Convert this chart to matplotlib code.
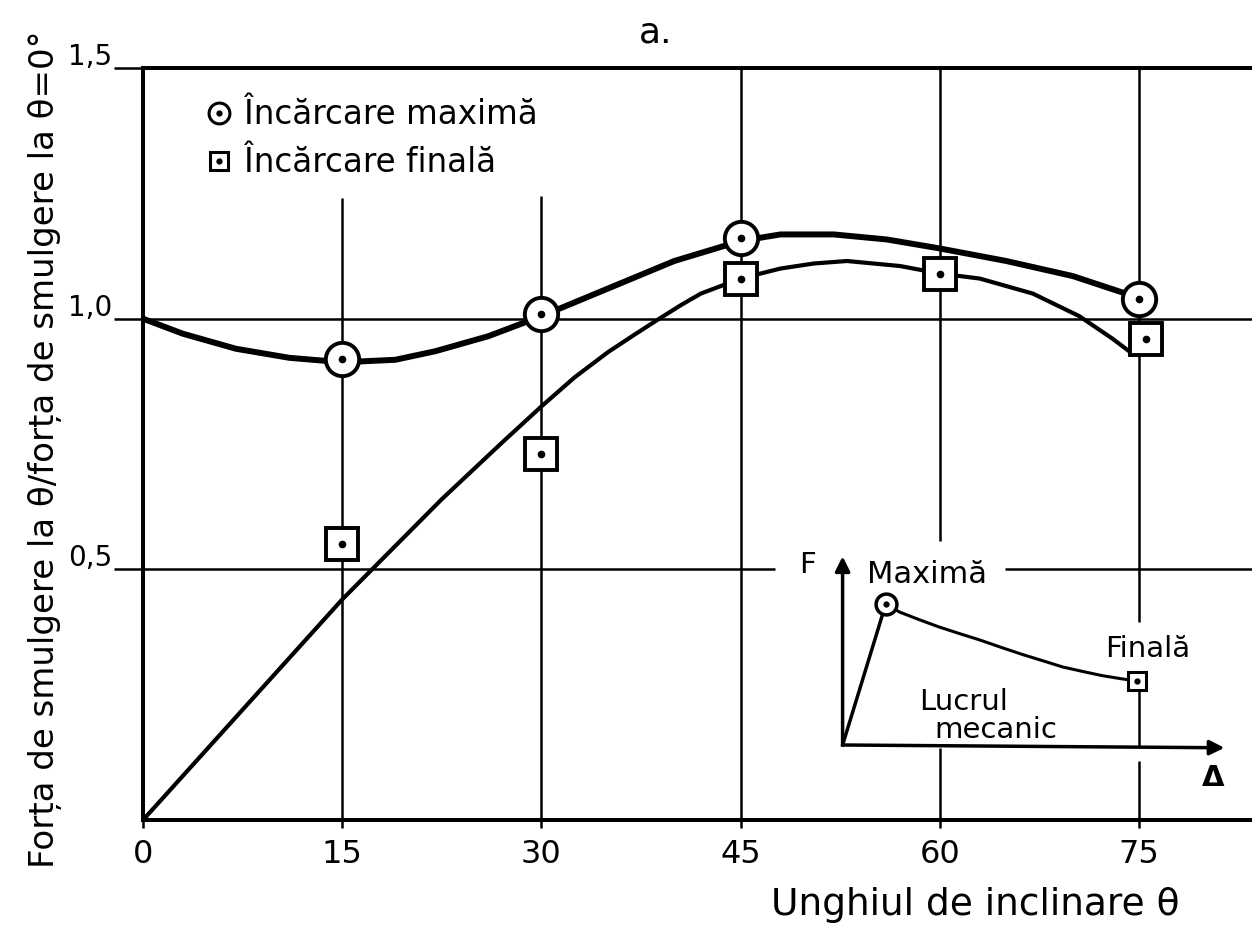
import matplotlib

matplotlib.use("Agg")
import matplotlib.pyplot as plt
from matplotlib.lines import Line2D
from matplotlib.transforms import ScaledTranslation

plt.rcParams["font.family"] = ["DejaVu Sans"]

# measured points (ratio of pull-out force at theta / at theta = 0)
max_angles = [15, 30, 45, 75]
max_ratio = [0.92, 1.01, 1.16, 1.04]
final_angles = [15, 30, 45, 60, 75.5]
final_ratio = [0.55, 0.73, 1.08, 1.09, 0.96]

# hand-faired trend curves
max_curve_x = [0, 3, 7, 11, 15, 19, 22, 26, 30, 35, 40, 45, 48, 52, 56, 60, 65, 70, 74]
max_curve_y = [1.0, 0.97, 0.94, 0.922, 0.913, 0.918, 0.935, 0.965, 1.005, 1.06,
               1.115, 1.155, 1.168, 1.168, 1.158, 1.14, 1.115, 1.085, 1.05]
final_curve_x = [0, 7.5, 15, 22.5, 27, 30, 32.5, 35, 37, 38.7, 40.5, 42, 45, 48, 50.5,
                 53, 57, 60, 63, 67, 70.5, 73, 74.5]
final_curve_y = [0.0, 0.22, 0.44, 0.64, 0.752, 0.825, 0.883, 0.933, 0.968, 0.997, 1.027,
                 1.05, 1.08, 1.10, 1.11, 1.115, 1.105, 1.09, 1.08, 1.05, 1.005, 0.96, 0.93]

x_ticks = [0, 15, 30, 45, 60, 75]
y_ticks = [0.5, 1.0, 1.5]
y_tick_labels = ["0,5", "1,0", "1,5"]

# force-displacement sketch (schematic units)
sketch_rise_x = [0, 0.113]
sketch_rise_y = [0, 0.762]
sketch_decay_x = [0.113, 0.149, 0.2, 0.25, 0.305, 0.359, 0.415, 0.47, 0.525, 0.576,
                  0.63, 0.68, 0.73, 0.772]
sketch_decay_y = [0.762, 0.719, 0.678, 0.64, 0.603, 0.568, 0.528, 0.49, 0.455, 0.422,
                  0.397, 0.375, 0.358, 0.346]

fig = plt.figure(figsize=(12.52, 9.39), dpi=100)
ax = fig.add_axes([0.1142, 0.1267, 0.8858, 0.8009])
ax.set_xlim(0, 83.5)
ax.set_ylim(0, 1.5)

# grid drawn as separate pieces, left open around the legend and sketch
grid_kw = dict(color="black", lw=1.8, zorder=1)
ax.vlines([15], [0], [1.24], **grid_kw)
ax.vlines([30], [0], [1.245], **grid_kw)
ax.vlines([45], [0], [1.5], **grid_kw)
ax.vlines([60, 60], [0.556, 0], [1.5, 0.144], **grid_kw)
ax.vlines([75, 75, 75], [0.395, 0.146, 0], [1.5, 0.261, 0.117], **grid_kw)
ax.hlines([1.0], [0], [83.5], **grid_kw)
ax.hlines([0.5, 0.5], [0, 64.9], [47.6, 83.5], **grid_kw)

ax.plot(max_curve_x, max_curve_y, color="black", lw=4.3, solid_capstyle="round",
        solid_joinstyle="round", zorder=3)
ax.plot(final_curve_x, final_curve_y, color="black", lw=3.0, solid_capstyle="round",
        solid_joinstyle="round", zorder=3)

ring = dict(ls="none", mfc="white", mec="black", mew=2.8, zorder=4)
dot = dict(ls="none", marker="o", ms=4.5, color="black", zorder=5)
ax.plot(max_angles, max_ratio, marker="o", ms=24, **ring)
ax.plot(max_angles, max_ratio, **dot)
ax.plot(final_angles, final_ratio, marker="s", ms=23, **ring)
ax.plot(final_angles, final_ratio, **dot)

leg_ring = Line2D([], [], marker="o", ms=15, mew=2.2, ls="none", mfc="white", mec="black")
leg_sq = Line2D([], [], marker="s", ms=13, mew=2.2, ls="none", mfc="white", mec="black")
leg_dot = Line2D([], [], marker="o", ms=3.5, ls="none", color="black")
ax.legend([(leg_ring, leg_dot), (leg_sq, leg_dot)],
          ["Încărcare maximă", "Încărcare finală"],
          loc="upper left", bbox_to_anchor=(0.035, 0.99), frameon=False,
          fontsize=23.5, handlelength=0.9, handletextpad=0.3, labelspacing=0.45,
          borderpad=0.2)

for side in ["left", "top", "bottom"]:
    ax.spines[side].set_linewidth(2.9)
ax.spines["right"].set_visible(False)

ax.set_xticks(x_ticks)
ax.set_xticklabels([str(t) for t in x_ticks], fontsize=23)
ax.set_yticks(y_ticks)
ax.set_yticklabels(y_tick_labels, fontsize=20)
ax.tick_params(axis="x", length=6, width=1.8, pad=8)
ax.tick_params(axis="y", length=21, width=1.8, pad=1)
for lbl in ax.get_yticklabels():
    lbl.set_transform(lbl.get_transform() + ScaledTranslation(0, 10 / 72, fig.dpi_scale_trans))

ax.set_title("a.", x=0.462, pad=18, fontsize=26)

fig.text(0.036, 0.522, "Forța de smulgere la θ/forța de smulgere la θ=0°",
         rotation=90, ha="center", va="center", fontsize=24.5)
fig.text(0.779, 0.036, "Unghiul de inclinare θ", ha="center", va="center", fontsize=27)

# inset: force vs displacement sketch
ins = fig.add_axes([0.673, 0.2066, 0.305, 0.197])
ins.set_xlim(0, 1)
ins.set_ylim(0, 1)
ins.axis("off")
ins.patch.set_alpha(0)
arrow_kw = dict(arrowstyle="-|>", lw=2.5, color="black", mutation_scale=22,
                shrinkA=0, shrinkB=0)
ins.annotate("", xy=(0, 1.02), xytext=(0, 0), arrowprops=arrow_kw, annotation_clip=False)
ins.annotate("", xy=(1.0, -0.015), xytext=(0, 0), arrowprops=arrow_kw, annotation_clip=False)
ins.plot(sketch_rise_x, sketch_rise_y, color="black", lw=2.5, clip_on=False)
ins.plot(sketch_decay_x, sketch_decay_y, color="black", lw=2.2, solid_joinstyle="round",
         clip_on=False)
ins.plot(sketch_rise_x[-1], sketch_rise_y[-1], marker="o", ms=15, mfc="white", mec="black",
         mew=2.5, clip_on=False, zorder=4)
ins.plot(sketch_rise_x[-1], sketch_rise_y[-1], marker="o", ms=3.5, color="black",
         clip_on=False, zorder=5)
ins.plot(sketch_decay_x[-1], sketch_decay_y[-1], marker="s", ms=13, mfc="white", mec="black",
         mew=2.2, clip_on=False, zorder=4)
ins.plot(sketch_decay_x[-1], sketch_decay_y[-1], marker="o", ms=3.5, color="black",
         clip_on=False, zorder=5)
ins.text(-0.092, 0.973, "F", ha="center", va="center", fontsize=21)
ins.text(0.065, 0.92, "Maximă", ha="left", va="center", fontsize=22)
ins.text(0.80, 0.52, "Finală", ha="center", va="center", fontsize=21)
ins.text(0.20, 0.23, "Lucrul", ha="left", va="center", fontsize=21)
ins.text(0.24, 0.08, "mecanic", ha="left", va="center", fontsize=21)
ins.text(0.969, -0.18, "Δ", ha="center", va="center", fontsize=21, fontweight="bold")

fig.savefig("out.png", dpi=100)
